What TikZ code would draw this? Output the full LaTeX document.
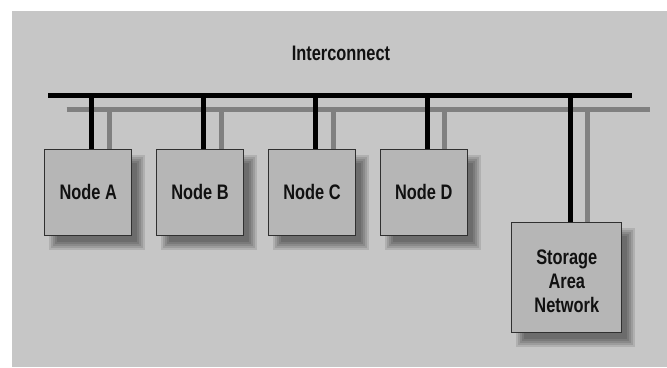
\documentclass[tikz,border=0pt]{standalone}
\usepackage{fontspec}
\setmainfont{Liberation Sans}[FakeStretch=0.78]
\usetikzlibrary{backgrounds}

\definecolor{panel}{HTML}{C6C6C6}
\definecolor{boxfill}{HTML}{B6B6B6}
\definecolor{busgray}{HTML}{808080}
\definecolor{edge}{HTML}{303030}
\definecolor{ink}{HTML}{111111}

% soft drop shadow behind a node: five stacked translucent rectangles
\newcommand{\softshadow}[1]{%
  \foreach \r in {0,2,4,6,8}
    \fill[black,opacity=0.11]
      ([shift={(5+\r,6+\r)}]#1.north west) rectangle
      ([shift={(13-\r,14-\r)}]#1.south east);
}

\begin{document}
\begin{tikzpicture}[x=1pt,y=-1pt,
  unitbox/.style={draw=edge, line width=1pt, fill=boxfill, text=ink,
    minimum width=87pt, minimum height=86pt, inner sep=0pt,
    font=\bfseries\fontsize{21}{24}\selectfont},
  sanbox/.style={unitbox, minimum width=110pt, minimum height=110pt, align=center},
  title/.style={inner sep=0pt, text=ink, font=\bfseries\fontsize{21}{24}\selectfont},
  mainwire/.style={line width=5pt, black},
  backwire/.style={line width=5pt, busgray}]
\useasboundingbox (0,0) rectangle (667,367);

% cluster members and shared storage
\node[unitbox] (A) at (88.3,192) {Node A};
\node[unitbox] (B) at (200,192) {Node B};
\node[unitbox] (C) at (312,192) {Node C};
\node[unitbox] (D) at (423.7,192) {Node D};
\node[sanbox] (SAN) at (566.8,277.9) {\rule{0pt}{21pt}Storage\\Area\\Network};
\node[title] (ic) at (341,53.4) {Interconnect};

% bus end points
\coordinate (mainL) at (48,95.3);
\coordinate (mainR) at (631.7,95.3);
\coordinate (backL) at (66.7,109.2);
\coordinate (backR) at (650,109.2);

\begin{pgfonlayer}{background}
  \fill[panel] (12,11) rectangle (667,367);
  \softshadow{A}
  \softshadow{B}
  \softshadow{C}
  \softshadow{D}
  \softshadow{SAN}
\end{pgfonlayer}

% secondary (gray) bus and its drops
\draw[backwire] (backL) -- (backR);
\foreach \n in {A,B,C,D,SAN}
  \draw[backwire] ([xshift=21pt]\n.north) -- ([xshift=21pt]\n.north |- backL);

% primary (black) bus and its drops
\draw[mainwire] (mainL) -- (mainR);
\foreach \n in {A,B,C,D,SAN}
  \draw[mainwire] ([xshift=3.5pt]\n.north) -- ([xshift=3.5pt]\n.north |- mainL);
\end{tikzpicture}
\end{document}
